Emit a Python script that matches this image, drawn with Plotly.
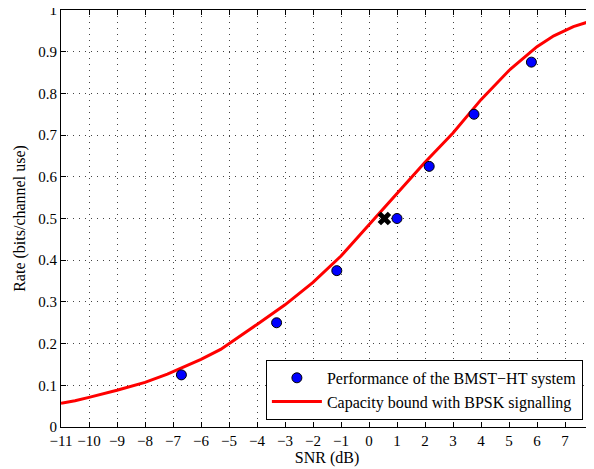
import plotly.graph_objects as go

# BMST-HT performance points
snr_pts = [-6.7, -3.3, -1.15, 1.0, 2.15, 3.75, 5.8]
rate_pts = [0.125, 0.25, 0.375, 0.5, 0.625, 0.75, 0.875]

# Capacity bound with BPSK signalling
snr_cap = [-11, -10.5, -10, -9, -8, -7.2, -6, -5.3, -4, -3, -2, -1, 0, 1, 2, 3, 4, 5, 6, 6.6, 7.3, 8]
rate_cap = [0.057, 0.063, 0.071, 0.088, 0.107, 0.127, 0.162, 0.186, 0.246, 0.293, 0.347, 0.41, 0.485,
            0.56, 0.635, 0.705, 0.785, 0.855, 0.912, 0.938, 0.96, 0.975]

# Marked point
snr_x = [0.55]
rate_x = [0.5]

xticks = list(range(-11, 9))
yticks = [0, 0.1, 0.2, 0.3, 0.4, 0.5, 0.6, 0.7, 0.8, 0.9, 1]
ytick_text = ["0", "0.1", "0.2", "0.3", "0.4", "0.5", "0.6", "0.7", "0.8", "0.9", "1"]

fig = go.Figure()
fig.add_trace(go.Scatter(
    x=snr_cap, y=rate_cap, mode="lines",
    line=dict(color="#ff0000", width=3),
    name="Capacity bound with BPSK signalling"))
fig.add_trace(go.Scatter(
    x=snr_x, y=rate_x, mode="markers",
    marker=dict(symbol="x", size=12, color="black", line=dict(width=0)),
    showlegend=False))
fig.add_trace(go.Scatter(
    x=snr_pts, y=rate_pts, mode="markers",
    marker=dict(symbol="circle", size=10, color="#0000ff", line=dict(color="black", width=1)),
    name="Performance of the BMST\u2212HT system"))

font_family = "Liberation Serif, DejaVu Serif, serif"
axis_common = dict(
    showline=True, linecolor="black", linewidth=1, mirror="ticks",
    ticks="inside", ticklen=5, tickcolor="black",
    showgrid=True, gridcolor="#444444", gridwidth=1, griddash="1px,5px",
    zeroline=False, ticklabeloverflow="allow",
    tickfont=dict(family=font_family, size=15, color="black"),
)

fig.update_xaxes(range=[-11, 8], tickvals=xticks,
                 title=dict(text="SNR (dB)", font=dict(family=font_family, size=16, color="black"), standoff=3),
                 automargin=False, **axis_common)
fig.update_yaxes(range=[0, 1], tickvals=yticks, ticktext=ytick_text,
                 title=dict(text="Rate (bits/channel use)", font=dict(family=font_family, size=16, color="black"), standoff=8),
                 automargin=False, **axis_common)

fig.update_layout(
    width=586, height=461,
    margin=dict(l=53, r=1, t=2, b=42),
    plot_bgcolor="white", paper_bgcolor="white",
    font=dict(family=font_family, size=16, color="black"),
    legend=dict(
        x=0.981, y=0.017, xanchor="right", yanchor="bottom",
        bgcolor="white", bordercolor="black", borderwidth=1,
        font=dict(family=font_family, size=16, color="black"),
        traceorder="reversed", tracegroupgap=0, itemwidth=50,
    ),
)

fig.write_html("out.html")
